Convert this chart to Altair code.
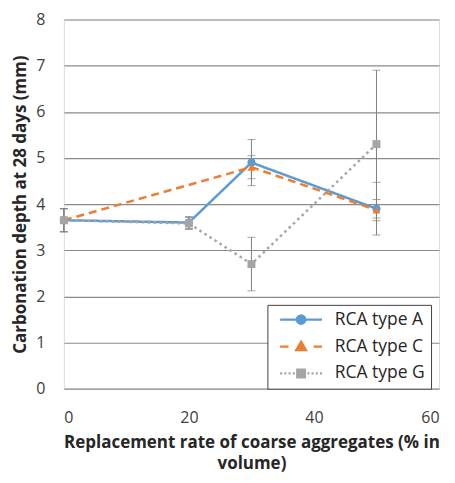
import altair as alt
import pandas as pd

series = ["RCA type A", "RCA type C", "RCA type G"]
a_x = [0, 20, 30, 50]
a_y = [3.65, 3.6, 4.9, 3.9]
a_err = [0.25, 0.13, 0.5, 0.57]
c_x = [0, 30, 50]
c_y = [3.65, 4.8, 3.87]
c_err = [0.25, 0.25, 0.23]
g_x = [0, 20, 30, 50]
g_y = [3.65, 3.58, 2.7, 5.3]
g_err = [0.25, 0.13, 0.58, 1.6]
colors = ["#5B9BD5", "#ED7D31", "#A5A5A5"]
marker_shapes = ["circle", "triangle-up", "square"]
dashes = [[1, 0], [8, 5], [2.5, 3.5]]
x_ticks = [0, 20, 40, 60]
y_ticks = [0, 1, 2, 3, 4, 5, 6, 7, 8]

rows = []
for s, xs_, ys_, es in zip(series, [a_x, c_x, g_x], [a_y, c_y, g_y], [a_err, c_err, g_err]):
    for x, y, e in zip(xs_, ys_, es):
        rows.append(dict(series=s, x=x, y=y, lo=round(y - e, 3), hi=round(y + e, 3)))
df = pd.DataFrame(rows)

FONT = "Open Sans"
color_scale = alt.Scale(domain=series, range=colors)
x_scale = alt.Scale(domain=[0, 60], nice=False)
y_scale = alt.Scale(domain=[0, 8], nice=False)
x_axis = alt.Axis(values=x_ticks, grid=False, domain=False, ticks=False,
                  labelPadding=21, labelFontSize=16, labelColor="#404040",
                  title=["Replacement rate of coarse aggregates (% in", "volume)"],
                  titleFontSize=17, titleFontWeight="bold", titleColor="#262626",
                  titlePadding=9, titleLineHeight=21, labelFont=FONT, titleFont=FONT)
y_axis = alt.Axis(values=y_ticks, grid=True, gridColor="#8a8a8a", gridWidth=1.2,
                  domain=False, ticks=False, labelPadding=19, labelFontSize=16,
                  labelColor="#404040", title="Carbonation depth at 28 days (mm)",
                  titleFontSize=17, titleFontWeight="bold", titleColor="#262626",
                  titlePadding=6, labelFont=FONT, titleFont=FONT)
xs = alt.X("x:Q", scale=x_scale, axis=x_axis)
ys = alt.Y("y:Q", scale=y_scale, axis=y_axis)

base = alt.Chart(df)

err_rule = base.mark_rule(color="#7f7f7f", strokeWidth=1).encode(
    x=xs, y=alt.Y("lo:Q", scale=y_scale, axis=y_axis), y2="hi:Q")
cap_lo = base.mark_tick(orient="horizontal", size=8, thickness=1, color="#7f7f7f").encode(
    x=xs, y=alt.Y("lo:Q", scale=y_scale, axis=y_axis))
cap_hi = base.mark_tick(orient="horizontal", size=8, thickness=1, color="#7f7f7f").encode(
    x=xs, y=alt.Y("hi:Q", scale=y_scale, axis=y_axis))

line_layers = []
point_layers = []
for s, shp, col, dash in zip(series, marker_shapes, colors, dashes):
    sub = base.transform_filter(alt.datum.series == s)
    line_layers.append(sub.mark_line(strokeWidth=2.5, color=col, strokeDash=dash).encode(x=xs, y=ys))
    point_layers.append(
        sub.mark_point(filled=True, opacity=1, size=64, shape=shp, color=col).encode(x=xs, y=ys)
    )

# legend glyphs: line segment(s) with the marker in the middle
leg_paths = [
    "M-1,0H5M1.4,0A0.6,0.6 0 1,0 2.6,0A0.6,0.6 0 1,0 1.4,0Z",
    "M-1,0H0.2M3.8,0H5M2,-0.7L2.7,0.5L1.3,0.5Z",
    "M-1,0H-0.7M-0.4,0H-0.1M0.2,0H0.5M0.8,0H1.1M2.9,0H3.2M3.5,0H3.8M4.1,0H4.4M4.7,0H5M1.45,-0.55H2.55V0.55H1.45Z",
]

legend = alt.Legend(
    title=None, orient="none", legendX=204, legendY=286,
    labelFontSize=17.5, labelFont=FONT, labelColor="#262626", labelOffset=39,
    symbolSize=196, symbolStrokeWidth=2.25, symbolOffset=5, rowPadding=8, padding=6,
    strokeColor="#404040", fillColor="white",
)
leg_layer = base.mark_point(filled=True, size=196, strokeWidth=2.25, opacity=1).encode(
    x=xs, y=ys,
    fill=alt.Fill("series:N", scale=color_scale, legend=legend),
    stroke=alt.Stroke("series:N", scale=color_scale, legend=legend),
    shape=alt.Shape("series:N", scale=alt.Scale(domain=series, range=leg_paths), legend=legend),
).transform_filter("datum.x < 0")

chart = alt.layer(err_rule, cap_lo, cap_hi, *line_layers, *point_layers, leg_layer).properties(
    width=376, height=370,
    autosize=alt.AutoSizeParams(type="none"),
    padding={"left": 56, "top": 11, "right": 8, "bottom": 90},
).configure_view(stroke="#8a8a8a", strokeWidth=1.2).configure(background="white")

chart.save("out.html", embed_options={"renderer": "svg", "actions": False})
